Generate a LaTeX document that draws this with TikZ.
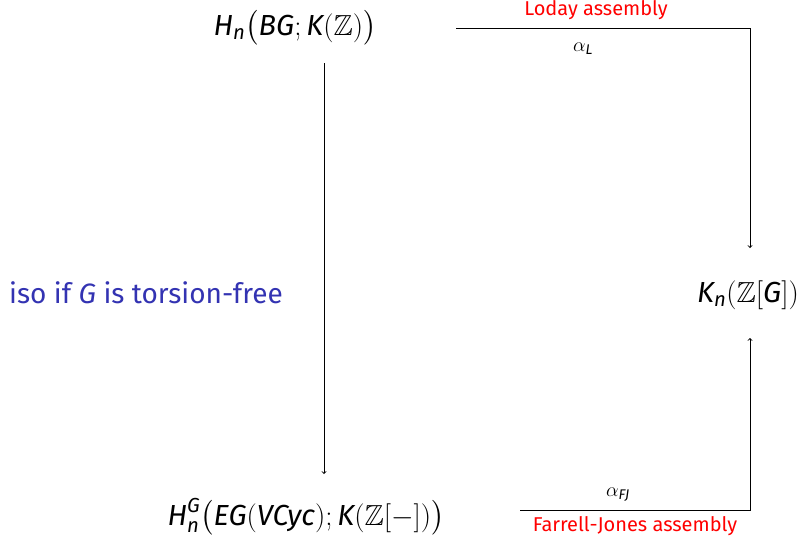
\RequirePackage{fix-cm}
\documentclass[tikz,border=0pt]{standalone}
\usepackage{amsmath,amssymb}
\DeclareFontFamily{U}{msb}{}
\DeclareFontShape{U}{msb}{m}{n}{<->msbm10}{}
\usepackage{fontspec}
\setmainfont{Fira Sans}
\newcommand{\vi}[1]{\textit{#1}}
\definecolor{lblred}{RGB}{255,0,0}
\definecolor{isoblue}{RGB}{51,51,178}
\begin{document}
\begin{tikzpicture}[x=1pt,y=-1pt,
  obj/.style={inner sep=0pt,anchor=base,font=\fontsize{29}{34}\selectfont},
  asm/.style={inner sep=0pt,anchor=base,text=lblred,font=\fontsize{20}{24}\selectfont},
  alab/.style={inner sep=0pt,anchor=base,font=\fontsize{20}{24}\selectfont},
  conn/.style={line width=0.9pt,->}]
\useasboundingbox (0,0) rectangle (806,536);
\node[obj] (top) at (295,35) {$\vi{H}_{\vi{n}}\bigl(\vi{BG};\vi{K}(\mathbb{Z})\bigr)$};
\node[obj] (bot) at (306,525) {$\vi{H}_{\vi{n}}^{\vi{G}}\bigl(\vi{EG}(\vi{VCyc});\vi{K}(\mathbb{Z}[-])\bigr)$};
\node[obj] (kn) at (748,302) {$\vi{K}_{\vi{n}}(\mathbb{Z}[\vi{G}])$};
\node[inner sep=0pt,anchor=base,text=isoblue,font=\fontsize{28}{32}\selectfont] (iso) at (146,303) {iso if \vi{G} is torsion-free};
\coordinate (v1) at (324,63);
\coordinate (v2) at (324,474);
\coordinate (t1) at (456,28);
\coordinate (t2) at (750,248);
\coordinate (b1) at (520,510);
\coordinate (b2) at (750,338);
\draw[conn] (v1) -- (v2);
\draw[conn] (t1) -| (t2);
\draw[conn] (b1) -| (b2);
\node[asm] (lod) at (596,15) {Loday assembly};
\node[alab] (al) at (583,51) {$\alpha_{\vi{L}}$};
\node[alab] (afj) at (618,496) {$\alpha_{\vi{FJ}}$};
\node[asm] (fj) at (635,531) {Farrell-Jones assembly};
\end{tikzpicture}
\end{document}
